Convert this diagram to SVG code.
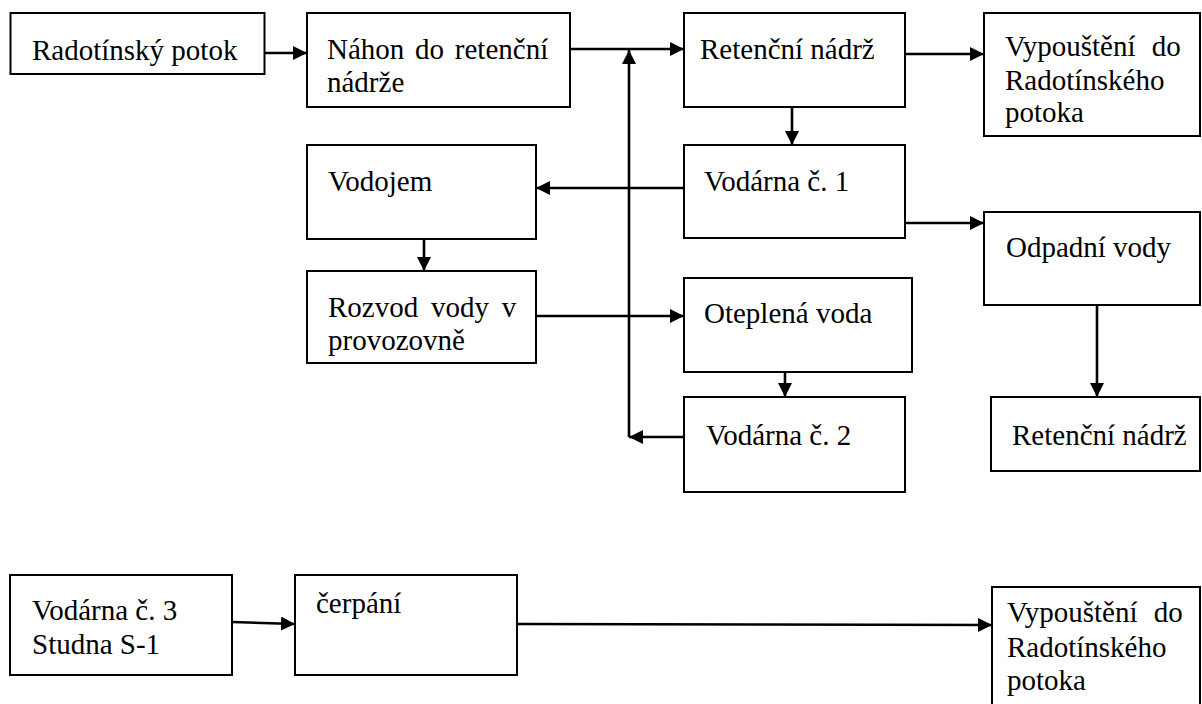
<svg xmlns="http://www.w3.org/2000/svg" width="1202" height="704" viewBox="0 0 1202 704">
  <style>
    .box { fill: #ffffff; stroke: #000000; stroke-width: 2; }
    .lbl { font-family: "Liberation Serif", "Times New Roman", serif; font-size: 29px; fill: #000000; }
    .conn { fill: none; stroke: #000000; stroke-width: 2.6; marker-end: url(#arrow); }
  </style>
  <defs>
    <marker id="arrow" markerUnits="userSpaceOnUse" markerWidth="15" markerHeight="15" refX="14" refY="7" orient="auto">
      <path d="M0,0 L14,7 L0,14 Z" fill="#000000"/>
    </marker>
  </defs>
  <rect width="1202" height="704" fill="#ffffff"/>

  <!-- connectors -->
  <g id="connectors">
    <path class="conn" d="M265,53 H307"/>
    <path class="conn" d="M570,49 H684"/>
    <path class="conn" d="M905,54 H984"/>
    <path class="conn" d="M792,107 V145"/>
    <path class="conn" d="M684,188 H536"/>
    <path class="conn" d="M905,223 H984"/>
    <path class="conn" d="M424,239 V271"/>
    <path class="conn" d="M536,316 H684"/>
    <path class="conn" d="M785,372 V397"/>
    <path class="conn" d="M684,437 H629"/>
    <path class="conn" d="M629,437 V50"/>
    <path class="conn" d="M1097,305 V397"/>
    <path class="conn" d="M232,622 L295,624"/>
    <path class="conn" d="M517,624 L992,625"/>
  </g>

  <!-- upper flow -->
  <g id="radotinsky-potok">
    <rect class="box" x="10.5" y="13" width="254" height="61"/>
    <text class="lbl" x="32" y="60">Radotínský potok</text>
  </g>
  <g id="nahon">
    <rect class="box" x="307" y="13" width="263" height="94"/>
    <text class="lbl" x="327" y="59" word-spacing="3.5">Náhon do retenční</text>
    <text class="lbl" x="327" y="92">nádrže</text>
  </g>
  <g id="retencni-nadrz">
    <rect class="box" x="684" y="13" width="221" height="94"/>
    <text class="lbl" x="700" y="59">Retenční nádrž</text>
  </g>
  <g id="vypousteni-1">
    <rect class="box" x="984" y="13" width="216" height="123"/>
    <text class="lbl" x="1005" y="56" word-spacing="9">Vypouštění do</text>
    <text class="lbl" x="1005" y="90">Radotínského</text>
    <text class="lbl" x="1005" y="122">potoka</text>
  </g>
  <g id="vodojem">
    <rect class="box" x="307" y="145" width="229" height="94"/>
    <text class="lbl" x="328" y="191">Vodojem</text>
  </g>
  <g id="vodarna-1">
    <rect class="box" x="684" y="145" width="221" height="93"/>
    <text class="lbl" x="704" y="191">Vodárna č. 1</text>
  </g>
  <g id="odpadni-vody">
    <rect class="box" x="984" y="212" width="216" height="93"/>
    <text class="lbl" x="1006" y="257">Odpadní vody</text>
  </g>
  <g id="rozvod-vody">
    <rect class="box" x="307" y="271" width="229" height="92"/>
    <text class="lbl" x="328" y="317" word-spacing="5.5">Rozvod vody v</text>
    <text class="lbl" x="328" y="350">provozovně</text>
  </g>
  <g id="oteplena-voda">
    <rect class="box" x="684" y="278" width="228" height="94"/>
    <text class="lbl" x="704" y="323">Oteplená voda</text>
  </g>
  <g id="vodarna-2">
    <rect class="box" x="684" y="397" width="221" height="95"/>
    <text class="lbl" x="706" y="445">Vodárna č. 2</text>
  </g>
  <g id="retencni-nadrz-2">
    <rect class="box" x="991" y="397" width="209" height="74"/>
    <text class="lbl" x="1012" y="445">Retenční nádrž</text>
  </g>

  <!-- lower flow -->
  <g id="vodarna-3">
    <rect class="box" x="10" y="575" width="222" height="100"/>
    <text class="lbl" x="32" y="620">Vodárna č. 3</text>
    <text class="lbl" x="32" y="654">Studna S-1</text>
  </g>
  <g id="cerpani">
    <rect class="box" x="295" y="575" width="222" height="100"/>
    <text class="lbl" x="316" y="613">čerpání</text>
  </g>
  <g id="vypousteni-2">
    <rect class="box" x="992" y="587" width="208" height="120"/>
    <text class="lbl" x="1007" y="622" word-spacing="9">Vypouštění do</text>
    <text class="lbl" x="1007" y="657">Radotínského</text>
    <text class="lbl" x="1007" y="690">potoka</text>
  </g>
</svg>
